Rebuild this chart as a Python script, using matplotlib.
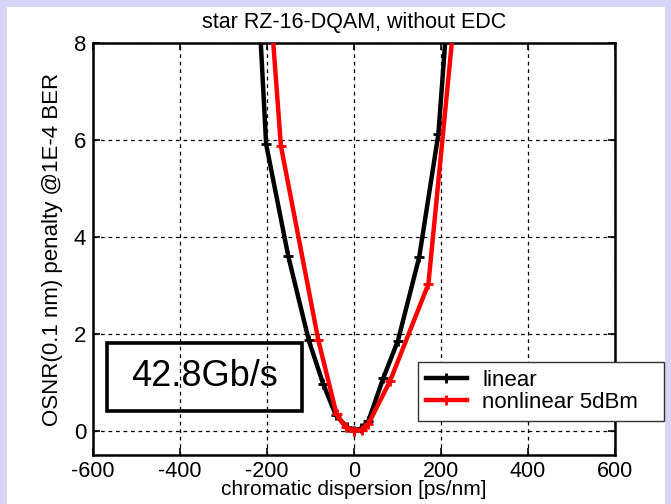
import matplotlib
matplotlib.use("Agg")
import matplotlib.pyplot as plt
from matplotlib.patches import Rectangle

plt.rcParams['font.family'] = ['Liberation Sans', 'DejaVu Sans']
plt.rcParams['axes.unicode_minus'] = False

# Data (chromatic dispersion [ps/nm], OSNR penalty [dB])
cd_linear = [-216, -202, -151, -104, -71, -42, -17, 0, 17, 33, 67, 101, 150, 194, 212]
pen_linear = [8.3, 5.92, 3.6, 1.87, 0.97, 0.33, 0.08, 0.0, 0.05, 0.2, 1.08, 1.86, 3.59, 6.13, 8.3]

cd_nonlin = [-188, -168, -82, -40, -19, 0, 18, 33, 83, 171, 228]
pen_nonlin = [8.3, 5.88, 1.87, 0.34, 0.07, 0.0, 0.02, 0.14, 1.03, 3.03, 8.3]

xticks = [-600, -400, -200, 0, 200, 400, 600]
yticks = [0, 2, 4, 6, 8]
labels = ['linear', 'nonlinear 5dBm']
title = 'star RZ-16-DQAM, without EDC'
xlabel = 'chromatic dispersion [ps/nm]'
ylabel = 'OSNR(0.1 nm) penalty @1E-4 BER'
boxtext = '42.8Gb/s'

W, H = 671, 504
fig = plt.figure(figsize=(W / 100, H / 100), dpi=100)
fig.patch.set_facecolor('#d6d6f8')

bg = fig.add_axes([7 / W, 0, (665 - 7) / W, (H - 7) / H], zorder=-10)
bg.set_facecolor('white')
bg.set_xticks([])
bg.set_yticks([])
for s in bg.spines.values():
    s.set_visible(False)

ax = fig.add_axes([93 / W, (H - 455) / H, (615 - 93) / W, (455 - 43.3) / H], zorder=1)
ax.set_xlim(-600, 600)
ax.set_ylim(-0.5, 8)
ax.set_xticks(xticks)
ax.set_yticks(yticks)
ax.tick_params(direction='in', length=5, width=1.2, top=True, right=True,
               labelsize=16, pad=5)
ax.tick_params(axis='x', labelsize=15.5, pad=4)
ax.grid(True, color='black', linestyle=(0, (3, 3)), linewidth=0.9)
for s in ax.spines.values():
    s.set_linewidth(1.8)

ax.plot(cd_linear, pen_linear, color='black', lw=3.2, marker='+', ms=7,
        mew=2.0, label=labels[0], zorder=3)
ax.plot(cd_nonlin, pen_nonlin, color='red', lw=3.2, marker='+', ms=7,
        mew=2.0, label=labels[1], zorder=4)

ax.set_title(title, fontsize=15.5, pad=11)
ax.set_xlabel(xlabel, fontsize=15, labelpad=-1)
ax.set_ylabel(ylabel, fontsize=16, labelpad=8)

leg = ax.legend(loc='upper left',
                bbox_to_anchor=(418 / W, (H - 421) / H, 246 / W, 59 / H),
                bbox_transform=fig.transFigure, mode='expand',
                borderaxespad=0, fontsize=16,
                frameon=True, fancybox=False, handlelength=1.85,
                handletextpad=0.7, labelspacing=0.05, borderpad=0.35)
leg.get_frame().set_edgecolor('#333333')
leg.get_frame().set_linewidth(1.0)
leg.get_frame().set_alpha(1)

ax.add_patch(Rectangle((107 / W, (H - 411) / H), 195 / W, 68 / H,
                       transform=fig.transFigure, facecolor='none',
                       edgecolor='black', linewidth=2.6, zorder=5,
                       clip_on=False))
fig.text(204.6 / W, 1 - 377 / H, boxtext, fontsize=26, ha='center',
         va='center', zorder=6)

fig.savefig('out.png', dpi=100, facecolor=fig.get_facecolor())
